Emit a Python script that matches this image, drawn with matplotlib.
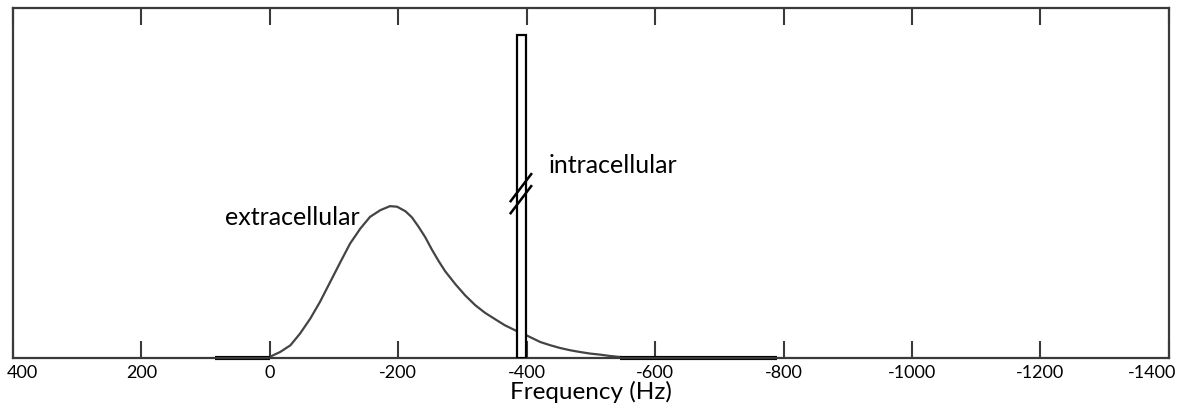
import matplotlib
matplotlib.use('Agg')
import matplotlib.pyplot as plt
import matplotlib.transforms as mtransforms

# extracellular line shape (frequency in Hz, intensity in arb. units)
freq = [0, -16, -32, -47, -63, -78, -94, -110, -125, -141, -156, -172, -187, -198,
        -211, -221, -231, -242, -252, -263, -273, -289, -304, -320, -335, -351,
        -366, -382, -398, -421, -437, -452, -468, -483, -499, -514, -530, -546]
intensity = [1.5, 6.3, 13, 24.7, 39.7, 56.3, 76.3, 96.3, 114.7, 129.7, 141.3, 148, 152, 151.5,
             147, 141, 132, 121, 109, 97, 87, 74, 63, 53, 45.5, 39,
             33, 28, 23.5, 16.3, 13, 10.3, 8, 6.3, 4.7, 3.7, 2.3, 1.3]

# flat baseline pieces drawn heavier
base_left = [85, 0]
base_right = [-546, -790]

# intracellular peak (narrow, truncated)
intra_center = -392
intra_width = 14
intra_height = 323

# break marks on the intracellular peak
break1_x = [-375, -407]
break1_y = [157, 184]
break2_x = [-375, -407]
break2_y = [145, 172]

xticks = [400, 200, 0, -200, -400, -600, -800, -1000, -1200, -1400]

font = 'Lato'
dark = '#3a3a3a'

fig = plt.figure(figsize=(11.83, 4.08), dpi=100)
ax = fig.add_axes([0.011, 0.1218, 0.977, 0.8586])

ax.plot(freq, intensity, color='#444444', lw=1.6, solid_joinstyle='round')
ax.plot(base_left, [0, 0], color='black', lw=3, solid_capstyle='butt', clip_on=False)
ax.plot(base_right, [0, 0], color='black', lw=3, solid_capstyle='butt', clip_on=False)

ax.bar(intra_center, intra_height, width=intra_width, color='white',
       edgecolor='black', linewidth=1.6, zorder=3)
ax.plot(break1_x, break1_y, color='black', lw=1.8, zorder=4)
ax.plot(break2_x, break2_y, color='black', lw=1.8, zorder=4)

ax.text(70, 133, 'extracellular', family=font, fontsize=18, ha='left', va='baseline')
ax.text(-434, 185, 'intracellular', family=font, fontsize=18, ha='left', va='baseline')

ax.set_xlim(400, -1400)
ax.set_ylim(0, 350)
ax.set_xticks(xticks)
ax.set_xticklabels([str(t) for t in xticks], family=font, fontsize=13)
ax.set_yticks([])
ax.tick_params(axis='x', direction='in', top=True, length=12, width=1.5,
               color=dark, pad=5)
for s in ax.spines.values():
    s.set_color(dark)
    s.set_linewidth(1.6)

ax.set_xlabel('Frequency (Hz)', family=font, fontsize=17.5, labelpad=0)

# edge tick labels sit inside the frame in the reference
labels = ax.get_xticklabels()
labels[0].set_transform(labels[0].get_transform() +
                        mtransforms.ScaledTranslation(9.5 / 100, 0, fig.dpi_scale_trans))
labels[-1].set_transform(labels[-1].get_transform() +
                         mtransforms.ScaledTranslation(-17 / 100, 0, fig.dpi_scale_trans))

fig.savefig('out.png', dpi=100)
